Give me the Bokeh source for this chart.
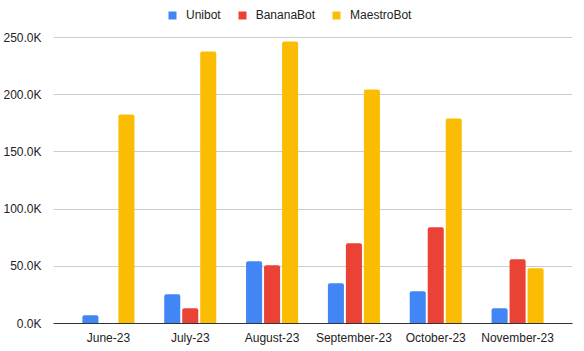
from bokeh.plotting import figure
from bokeh.models import (ColumnDataSource, FactorRange, Legend, LegendItem,
                          SingleIntervalTicker, CustomJSTickFormatter, Range1d)
from bokeh.transform import dodge
from bokeh.embed import file_html
from bokeh.resources import INLINE

months = ["June-23", "July-23", "August-23", "September-23", "October-23", "November-23"]
unibot = [7300, 25600, 54500, 35200, 28200, 13400]
bananabot = [0, 13400, 51000, 70200, 84200, 56200]
maestrobot = [182700, 237800, 246500, 204500, 179200, 48300]

series = ["Unibot", "BananaBot", "MaestroBot"]
colors = ["#4285F4", "#EA4335", "#FBBC04"]

src = ColumnDataSource(dict(month=months, Unibot=unibot, BananaBot=bananabot, MaestroBot=maestrobot))

FONT = "Liberation Sans"
H = 351
BOTTOM = 28
TOP_GAP = 37  # space above the 250K gridline (legend lives there)
frame_h = H - BOTTOM
y_end = 250000 * frame_h / (frame_h - TOP_GAP)

p = figure(width=584, height=H, output_backend="svg", toolbar_location=None,
           x_range=FactorRange(factors=months, range_padding=0.057),
           y_range=Range1d(0, y_end),
           min_border_left=53, min_border_right=12, min_border_top=0, min_border_bottom=BOTTOM)
p.outline_line_color = None
p.background_fill_color = "white"
p.border_fill_color = "white"

offsets = [-0.22, 0.0, 0.22]
renderers = []
for s, c, off in zip(series, colors, offsets):
    r = p.vbar(x=dodge("month", off, range=p.x_range), top=s, width=0.196, source=src,
               fill_color=c, line_color=None, border_radius=(2, 2, 0, 0))
    renderers.append(r)

p.xgrid.grid_line_color = None
p.ygrid.grid_line_color = "#cccccc"
p.ygrid.grid_line_width = 1

p.yaxis.ticker = SingleIntervalTicker(interval=50000)
p.yaxis.formatter = CustomJSTickFormatter(code="return (tick/1000).toFixed(1) + 'K';")
p.yaxis.axis_line_color = None
p.yaxis.major_tick_line_color = None
p.yaxis.minor_tick_line_color = None
p.yaxis.major_label_standoff = 6
p.yaxis.major_label_text_font = FONT
p.yaxis.major_label_text_font_size = "12px"
p.yaxis.major_label_text_color = "#222222"

p.xaxis.axis_line_color = "#333333"
p.xaxis.major_tick_line_color = None
p.xaxis.minor_tick_line_color = None
p.xaxis.major_label_standoff = 1
p.xaxis.major_label_text_font = FONT
p.xaxis.major_label_text_font_size = "12px"
p.xaxis.major_label_text_color = "#222222"

legend = Legend(items=[LegendItem(label=s, renderers=[r]) for s, r in zip(series, renderers)],
                orientation="horizontal", location=(114, frame_h - 25),
                label_text_font=FONT, label_text_font_size="12px", label_text_color="#222222",
                glyph_width=10, glyph_height=10, label_height=20, label_standoff=9, spacing=16,
                padding=0, margin=0, border_line_color=None, background_fill_alpha=0)
p.add_layout(legend, "center")

open("out.html", "w").write(file_html(p, INLINE))
